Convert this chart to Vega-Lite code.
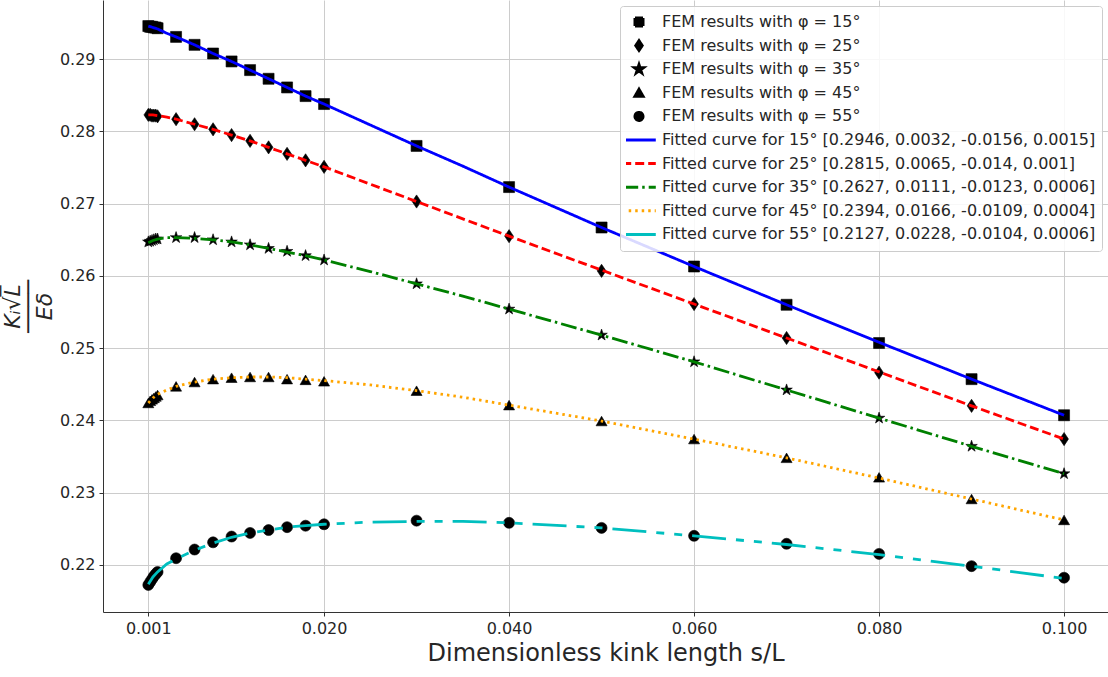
{
  "$schema": "https://vega.github.io/schema/vega-lite/v6.json",
  "width": 1005,
  "height": 612,
  "autosize": {"type": "none"},
  "padding": {"left": 103, "top": 0, "right": 0, "bottom": 65},
  "background": "white",
  "config": {
    "view": {"stroke": null},
    "font": "DejaVu Sans",
    "axis": {
      "labelFont": "DejaVu Sans", "labelFontSize": 16, "labelColor": "#262626",
      "titleFont": "DejaVu Sans", "titleFontWeight": "normal", "titleColor": "#262626",
      "gridColor": "#cccccc", "gridWidth": 1, "domainColor": "#333333", "domainWidth": 1,
      "tickColor": "#333333", "tickSize": 4, "labelPadding": 4
    },
    "legend": {
      "orient": "top-right", "offset": 6, "padding": 6, "rowPadding": 3.6, "clipHeight": 20,
      "labelFont": "DejaVu Sans", "labelFontSize": 16, "labelColor": "#262626", "labelLimit": 700,
      "fillColor": "rgba(255,255,255,0.85)", "strokeColor": "#cccccc", "cornerRadius": 3,
      "symbolSize": 64, "symbolStrokeWidth": 3, "symbolOpacity": 1, "symbolOffset": 5, "labelOffset": 15
    }
  },
  "datasets": {
    "pts": [
      {"s":"P15","x":0.001,"y":0.2946},{"s":"P15","x":0.0012,"y":0.2945},{"s":"P15","x":0.0014,"y":0.2945},{"s":"P15","x":0.0016,"y":0.2944},{"s":"P15","x":0.0018,"y":0.2944},{"s":"P15","x":0.002,"y":0.2943},
      {"s":"P15","x":0.004,"y":0.2931},{"s":"P15","x":0.006,"y":0.2920},{"s":"P15","x":0.008,"y":0.2908},{"s":"P15","x":0.01,"y":0.2897},{"s":"P15","x":0.012,"y":0.2885},{"s":"P15","x":0.014,"y":0.2873},{"s":"P15","x":0.016,"y":0.2861},{"s":"P15","x":0.018,"y":0.2849},{"s":"P15","x":0.02,"y":0.2838},
      {"s":"P15","x":0.03,"y":0.2780},{"s":"P15","x":0.04,"y":0.2723},{"s":"P15","x":0.05,"y":0.2667},{"s":"P15","x":0.06,"y":0.2613},{"s":"P15","x":0.07,"y":0.2560},{"s":"P15","x":0.08,"y":0.2507},{"s":"P15","x":0.09,"y":0.2457},{"s":"P15","x":0.1,"y":0.2407},
      {"s":"P25","x":0.001,"y":0.2823},{"s":"P25","x":0.0012,"y":0.2823},{"s":"P25","x":0.0014,"y":0.2822},{"s":"P25","x":0.0016,"y":0.2822},{"s":"P25","x":0.0018,"y":0.2822},{"s":"P25","x":0.002,"y":0.2821},
      {"s":"P25","x":0.004,"y":0.2817},{"s":"P25","x":0.006,"y":0.2810},{"s":"P25","x":0.008,"y":0.2803},{"s":"P25","x":0.01,"y":0.2795},{"s":"P25","x":0.012,"y":0.2787},{"s":"P25","x":0.014,"y":0.2778},{"s":"P25","x":0.016,"y":0.2769},{"s":"P25","x":0.018,"y":0.2760},{"s":"P25","x":0.02,"y":0.2751},
      {"s":"P25","x":0.03,"y":0.2703},{"s":"P25","x":0.04,"y":0.2655},{"s":"P25","x":0.05,"y":0.2607},{"s":"P25","x":0.06,"y":0.2561},{"s":"P25","x":0.07,"y":0.2514},{"s":"P25","x":0.08,"y":0.2466},{"s":"P25","x":0.09,"y":0.2420},{"s":"P25","x":0.1,"y":0.2374},
      {"s":"P35","x":0.001,"y":0.2647},{"s":"P35","x":0.0012,"y":0.2648},{"s":"P35","x":0.0014,"y":0.2649},{"s":"P35","x":0.0016,"y":0.2650},{"s":"P35","x":0.0018,"y":0.2651},{"s":"P35","x":0.002,"y":0.2651},
      {"s":"P35","x":0.004,"y":0.2653},{"s":"P35","x":0.006,"y":0.2653},{"s":"P35","x":0.008,"y":0.2650},{"s":"P35","x":0.01,"y":0.2647},{"s":"P35","x":0.012,"y":0.2643},{"s":"P35","x":0.014,"y":0.2638},{"s":"P35","x":0.016,"y":0.2634},{"s":"P35","x":0.018,"y":0.2628},{"s":"P35","x":0.02,"y":0.2622},
      {"s":"P35","x":0.03,"y":0.2589},{"s":"P35","x":0.04,"y":0.2554},{"s":"P35","x":0.05,"y":0.2518},{"s":"P35","x":0.06,"y":0.2481},{"s":"P35","x":0.07,"y":0.2442},{"s":"P35","x":0.08,"y":0.2403},{"s":"P35","x":0.09,"y":0.2364},{"s":"P35","x":0.1,"y":0.2326},
      {"s":"P45","x":0.001,"y":0.2424},{"s":"P45","x":0.0012,"y":0.2427},{"s":"P45","x":0.0014,"y":0.2429},{"s":"P45","x":0.0016,"y":0.2431},{"s":"P45","x":0.0018,"y":0.2433},{"s":"P45","x":0.002,"y":0.2435},
      {"s":"P45","x":0.004,"y":0.2447},{"s":"P45","x":0.006,"y":0.2453},{"s":"P45","x":0.008,"y":0.2457},{"s":"P45","x":0.01,"y":0.2459},{"s":"P45","x":0.012,"y":0.2460},{"s":"P45","x":0.014,"y":0.2460},{"s":"P45","x":0.016,"y":0.2457},{"s":"P45","x":0.018,"y":0.2456},{"s":"P45","x":0.02,"y":0.2454},
      {"s":"P45","x":0.03,"y":0.2441},{"s":"P45","x":0.04,"y":0.2421},{"s":"P45","x":0.05,"y":0.2399},{"s":"P45","x":0.06,"y":0.2374},{"s":"P45","x":0.07,"y":0.2348},{"s":"P45","x":0.08,"y":0.2321},{"s":"P45","x":0.09,"y":0.2291},{"s":"P45","x":0.1,"y":0.2262},
      {"s":"P55","x":0.001,"y":0.2172},{"s":"P55","x":0.0012,"y":0.2176},{"s":"P55","x":0.0014,"y":0.2180},{"s":"P55","x":0.0016,"y":0.2184},{"s":"P55","x":0.0018,"y":0.2187},{"s":"P55","x":0.002,"y":0.2190},
      {"s":"P55","x":0.004,"y":0.2209},{"s":"P55","x":0.006,"y":0.2221},{"s":"P55","x":0.008,"y":0.2231},{"s":"P55","x":0.01,"y":0.2239},{"s":"P55","x":0.012,"y":0.2244},{"s":"P55","x":0.014,"y":0.2248},{"s":"P55","x":0.016,"y":0.2252},{"s":"P55","x":0.018,"y":0.2254},{"s":"P55","x":0.02,"y":0.2256},
      {"s":"P55","x":0.03,"y":0.2261},{"s":"P55","x":0.04,"y":0.2258},{"s":"P55","x":0.05,"y":0.2251},{"s":"P55","x":0.06,"y":0.2240},{"s":"P55","x":0.07,"y":0.2229},{"s":"P55","x":0.08,"y":0.2215},{"s":"P55","x":0.09,"y":0.2198},{"s":"P55","x":0.1,"y":0.2182}
    ],
    "fit": [
      {"s":"F15","x":0.001,"y":0.2946},{"s":"F15","x":0.0015,"y":0.2944},{"s":"F15","x":0.002,"y":0.2942},{"s":"F15","x":0.003,"y":0.2936},{"s":"F15","x":0.004,"y":0.2931},{"s":"F15","x":0.006,"y":0.2920},{"s":"F15","x":0.008,"y":0.2908},{"s":"F15","x":0.01,"y":0.2897},{"s":"F15","x":0.012,"y":0.2885},{"s":"F15","x":0.014,"y":0.2873},{"s":"F15","x":0.016,"y":0.2861},{"s":"F15","x":0.018,"y":0.2849},{"s":"F15","x":0.02,"y":0.2838},{"s":"F15","x":0.025,"y":0.2809},{"s":"F15","x":0.03,"y":0.2780},{"s":"F15","x":0.035,"y":0.2752},{"s":"F15","x":0.04,"y":0.2723},{"s":"F15","x":0.05,"y":0.2667},{"s":"F15","x":0.06,"y":0.2613},{"s":"F15","x":0.07,"y":0.2560},{"s":"F15","x":0.08,"y":0.2508},{"s":"F15","x":0.09,"y":0.2457},{"s":"F15","x":0.1,"y":0.2407},
      {"s":"F25","x":0.001,"y":0.2823},{"s":"F25","x":0.0015,"y":0.2823},{"s":"F25","x":0.002,"y":0.2822},{"s":"F25","x":0.003,"y":0.2820},{"s":"F25","x":0.004,"y":0.2817},{"s":"F25","x":0.006,"y":0.2810},{"s":"F25","x":0.008,"y":0.2803},{"s":"F25","x":0.01,"y":0.2795},{"s":"F25","x":0.012,"y":0.2787},{"s":"F25","x":0.014,"y":0.2778},{"s":"F25","x":0.016,"y":0.2769},{"s":"F25","x":0.018,"y":0.2760},{"s":"F25","x":0.02,"y":0.2751},{"s":"F25","x":0.025,"y":0.2727},{"s":"F25","x":0.03,"y":0.2703},{"s":"F25","x":0.035,"y":0.2679},{"s":"F25","x":0.04,"y":0.2655},{"s":"F25","x":0.05,"y":0.2608},{"s":"F25","x":0.06,"y":0.2561},{"s":"F25","x":0.07,"y":0.2514},{"s":"F25","x":0.08,"y":0.2467},{"s":"F25","x":0.09,"y":0.2420},{"s":"F25","x":0.1,"y":0.2374},
      {"s":"F35","x":0.001,"y":0.2646},{"s":"F35","x":0.0015,"y":0.2649},{"s":"F35","x":0.002,"y":0.2651},{"s":"F35","x":0.003,"y":0.2653},{"s":"F35","x":0.004,"y":0.2653},{"s":"F35","x":0.006,"y":0.2652},{"s":"F35","x":0.008,"y":0.2650},{"s":"F35","x":0.01,"y":0.2647},{"s":"F35","x":0.012,"y":0.2643},{"s":"F35","x":0.014,"y":0.2638},{"s":"F35","x":0.016,"y":0.2633},{"s":"F35","x":0.018,"y":0.2628},{"s":"F35","x":0.02,"y":0.2622},{"s":"F35","x":0.025,"y":0.2606},{"s":"F35","x":0.03,"y":0.2589},{"s":"F35","x":0.035,"y":0.2572},{"s":"F35","x":0.04,"y":0.2554},{"s":"F35","x":0.05,"y":0.2518},{"s":"F35","x":0.06,"y":0.2481},{"s":"F35","x":0.07,"y":0.2442},{"s":"F35","x":0.08,"y":0.2403},{"s":"F35","x":0.09,"y":0.2364},{"s":"F35","x":0.1,"y":0.2326},
      {"s":"F45","x":0.001,"y":0.2424},{"s":"F45","x":0.0015,"y":0.2431},{"s":"F45","x":0.002,"y":0.2436},{"s":"F45","x":0.003,"y":0.2442},{"s":"F45","x":0.004,"y":0.2447},{"s":"F45","x":0.006,"y":0.2453},{"s":"F45","x":0.008,"y":0.2457},{"s":"F45","x":0.01,"y":0.2459},{"s":"F45","x":0.012,"y":0.2460},{"s":"F45","x":0.014,"y":0.2460},{"s":"F45","x":0.016,"y":0.2459},{"s":"F45","x":0.018,"y":0.2457},{"s":"F45","x":0.02,"y":0.2455},{"s":"F45","x":0.025,"y":0.2449},{"s":"F45","x":0.03,"y":0.2441},{"s":"F45","x":0.035,"y":0.2432},{"s":"F45","x":0.04,"y":0.2421},{"s":"F45","x":0.05,"y":0.2399},{"s":"F45","x":0.06,"y":0.2374},{"s":"F45","x":0.07,"y":0.2348},{"s":"F45","x":0.08,"y":0.2320},{"s":"F45","x":0.09,"y":0.2291},{"s":"F45","x":0.1,"y":0.2262},
      {"s":"F55","x":0.001,"y":0.2173},{"s":"F55","x":0.0015,"y":0.2183},{"s":"F55","x":0.002,"y":0.2190},{"s":"F55","x":0.003,"y":0.2201},{"s":"F55","x":0.004,"y":0.2208},{"s":"F55","x":0.006,"y":0.2220},{"s":"F55","x":0.008,"y":0.2230},{"s":"F55","x":0.01,"y":0.2238},{"s":"F55","x":0.012,"y":0.2244},{"s":"F55","x":0.014,"y":0.2248},{"s":"F55","x":0.016,"y":0.2252},{"s":"F55","x":0.018,"y":0.2254},{"s":"F55","x":0.02,"y":0.2256},{"s":"F55","x":0.025,"y":0.2259},{"s":"F55","x":0.03,"y":0.2260},{"s":"F55","x":0.035,"y":0.2260},{"s":"F55","x":0.04,"y":0.2258},{"s":"F55","x":0.05,"y":0.2251},{"s":"F55","x":0.06,"y":0.2240},{"s":"F55","x":0.07,"y":0.2228},{"s":"F55","x":0.08,"y":0.2214},{"s":"F55","x":0.09,"y":0.2198},{"s":"F55","x":0.1,"y":0.2181}
    ]
  },
  "layer": [
    {
      "data": {"name": "pts"},
      "mark": {"type": "point", "filled": true, "opacity": 1, "size": 121, "stroke": "black", "strokeWidth": 0.6},
      "encoding": {
        "x": {"field": "x", "type": "quantitative",
          "scale": {"domain": [-0.0039, 0.10475], "nice": false, "zero": false},
          "axis": {"values": [0.001, 0.02, 0.04, 0.06, 0.08, 0.1], "format": ".3f", "labelFlush": false,
                   "title": "Dimensionless kink length s/L", "titleFontSize": 24, "titlePadding": 5}},
        "y": {"field": "y", "type": "quantitative",
          "scale": {"domain": [0.21345, 0.29821], "nice": false, "zero": false},
          "axis": {"values": [0.22, 0.23, 0.24, 0.25, 0.26, 0.27, 0.28, 0.29], "format": ".2f",
                   "title": ["K\u1d62\u221aL\u0305", "\u2500\u2500\u2500\u2500", "E\u03b4"], "titleFontSize": 22, "titleFontStyle": "italic",
                   "titleLineHeight": 16, "titlePadding": 3}},
        "color": {"field": "s", "type": "nominal",
          "scale": {"domain": ["P15","P25","P35","P45","P55","F15","F25","F35","F45","F55"],
                    "range": ["#000000","#000000","#000000","#000000","#000000","#0000ff","#ff0000","#008000","#ffa500","#00bfbf"]},
          "legend": {"title": null,
            "labelExpr": "{'P15':'FEM results with \u03c6 = 15\u00b0','P25':'FEM results with \u03c6 = 25\u00b0','P35':'FEM results with \u03c6 = 35\u00b0','P45':'FEM results with \u03c6 = 45\u00b0','P55':'FEM results with \u03c6 = 55\u00b0','F15':'Fitted curve for 15\u00b0 [0.2946, 0.0032, -0.0156, 0.0015]','F25':'Fitted curve for 25\u00b0 [0.2815, 0.0065, -0.014, 0.001]','F35':'Fitted curve for 35\u00b0 [0.2627, 0.0111, -0.0123, 0.0006]','F45':'Fitted curve for 45\u00b0 [0.2394, 0.0166, -0.0109, 0.0004]','F55':'Fitted curve for 55\u00b0 [0.2127, 0.0228, -0.0104, 0.0006]'}[datum.value]"}},
        "shape": {"field": "s", "type": "nominal",
          "scale": {"domain": ["P15","P25","P35","P45","P55","F15","F25","F35","F45","F55"],
                    "range": ["square", "M0,-1.2L0.8,0L0,1.2L-0.8,0Z",
                              "M0,-1.1L0.247,-0.34L1.046,-0.34L0.399,0.13L0.647,0.89L0,0.42L-0.647,0.89L-0.399,0.13L-1.046,-0.34L-0.247,-0.34Z",
                              "triangle-up", "circle", "M-4.2,0L4.2,0", "M-4.2,0L4.2,0", "M-4.2,0L4.2,0", "M-4.2,0L4.2,0", "M-4.2,0L4.2,0"]},
          "legend": {"title": null}}
      }
    },
    {
      "data": {"name": "fit"},
      "mark": {"type": "line", "strokeWidth": 2.8, "opacity": 1},
      "encoding": {
        "x": {"field": "x", "type": "quantitative"},
        "y": {"field": "y", "type": "quantitative"},
        "color": {"field": "s", "type": "nominal"},
        "strokeDash": {"field": "s", "type": "nominal",
          "scale": {"domain": ["P15","P25","P35","P45","P55","F15","F25","F35","F45","F55"],
                    "range": [[1,0],[1,0],[1,0],[1,0],[1,0],[1,0],[9,4],[16,4,2.5,4],[2.5,4],[34,10,8,10,8,10]]},
          "legend": {"title": null}}
      }
    }
  ]
}
